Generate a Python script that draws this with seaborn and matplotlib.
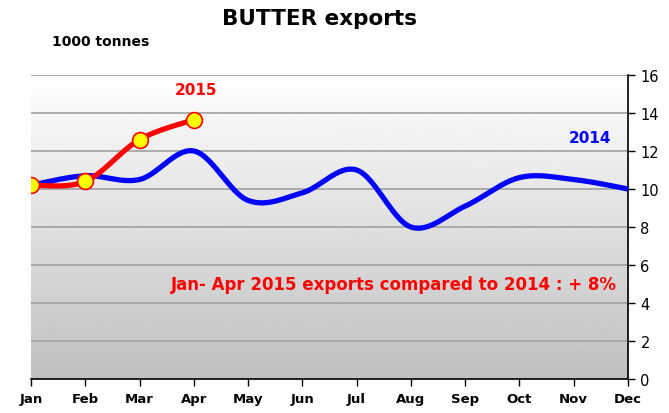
import numpy as np
import pandas as pd
import matplotlib
matplotlib.use("Agg")
import matplotlib.pyplot as plt
import seaborn as sns

months = ["Jan", "Feb", "Mar", "Apr", "May", "Jun", "Jul", "Aug", "Sep", "Oct", "Nov", "Dec"]
exports_2014 = [10.2, 10.7, 10.5, 12.0, 9.4, 9.8, 11.0, 8.0, 9.1, 10.6, 10.5, 10.0]
exports_2015 = [10.2, 10.4, 12.6, 13.65]
y_ticks = [0, 2, 4, 6, 8, 10, 12, 14, 16]


def smooth(xs, ys, n=30):
    # Catmull-Rom curve through the data points (Excel-style smoothed line)
    xs = np.asarray(xs, float)
    ys = np.asarray(ys, float)
    px = np.concatenate([[xs[0]], xs, [xs[-1]]])
    py = np.concatenate([[ys[0]], ys, [ys[-1]]])
    ox, oy = [], []
    for i in range(1, len(px) - 2):
        t = np.linspace(0, 1, n, endpoint=False)
        for arr, out in ((px, ox), (py, oy)):
            p0, p1, p2, p3 = arr[i - 1], arr[i], arr[i + 1], arr[i + 2]
            out.extend(0.5 * ((2 * p1) + (-p0 + p2) * t
                              + (2 * p0 - 5 * p1 + 4 * p2 - p3) * t ** 2
                              + (-p0 + 3 * p1 - 3 * p2 + p3) * t ** 3))
    ox.append(xs[-1])
    oy.append(ys[-1])
    return np.array(ox), np.array(oy)


sns.set_theme(style="white")
plt.rcParams["font.family"] = ["DejaVu Sans"]
plt.rcParams["text.color"] = "black"
plt.rcParams["xtick.color"] = "black"
plt.rcParams["ytick.color"] = "black"

fig = plt.figure(figsize=(6.69, 4.14), dpi=100)
ax = fig.add_axes([0.0463, 0.0821, 0.8924, 0.7343])

# gradient background
grad = np.linspace(0.75, 1.0, 256).reshape(-1, 1)
ax.imshow(grad, extent=[0, 11, 0, 16], origin="lower", aspect="auto",
          cmap="gray", vmin=0, vmax=1, zorder=0)

for v in y_ticks[1:]:
    ax.axhline(v, color="#a0a0a0", lw=1.2, zorder=1)

x14 = np.arange(len(exports_2014))
sx, sy = smooth(x14, exports_2014)
df14 = pd.DataFrame({"x": sx, "y": sy})
sns.lineplot(data=df14, x="x", y="y", sort=False, color="#0000ff", lw=3.8,
             ax=ax, zorder=3, estimator=None)

x15 = np.arange(len(exports_2015))
sx5, sy5 = smooth(x15, exports_2015)
df15 = pd.DataFrame({"x": sx5, "y": sy5})
sns.lineplot(data=df15, x="x", y="y", sort=False, color="#ff0000", lw=3.8,
             ax=ax, zorder=4, estimator=None)
sns.scatterplot(x=x15, y=exports_2015, color="#ffff00", edgecolor="#ff0000",
                linewidth=1.2, s=130, ax=ax, zorder=5)

ax.set_xlim(0, 11)
ax.set_ylim(0, 16)
ax.set_xticks(range(len(months)))
ax.set_xticklabels(months, fontweight="bold", fontsize=9.5, color="black")
ax.set_yticks(y_ticks)
ax.yaxis.tick_right()
ax.tick_params(axis="y", labelsize=10.5, direction="out", length=5, width=1,
               color="black", labelcolor="black", pad=4, right=True, left=False)
ax.tick_params(axis="x", direction="out", length=5, width=1, color="black",
               labelcolor="black", pad=4, bottom=True)
ax.set_xlabel("")
ax.set_ylabel("")
for s in ["top", "left"]:
    ax.spines[s].set_visible(False)
for s in ["right", "bottom"]:
    ax.spines[s].set_visible(True)
    ax.spines[s].set_color("black")
    ax.spines[s].set_linewidth(1.2)

ax.text(3.04, 15.25, "2015", color="#ff0000", fontweight="bold", fontsize=11,
        ha="center", va="center")
ax.text(10.3, 12.7, "2014", color="#0000ff", fontweight="bold", fontsize=11,
        ha="center", va="center")
ax.text(10.8, 5.0, "Jan- Apr 2015 exports compared to 2014 : + 8%",
        color="#ff0000", fontweight="bold", fontsize=12, ha="right", va="center")

fig.text(0.478, 0.955, "BUTTER exports", fontweight="bold", fontsize=15.5,
         ha="center", va="center", color="black")
fig.text(0.078, 0.898, "1000 tonnes", fontweight="bold", fontsize=10,
         ha="left", va="center", color="black")

fig.savefig("out.png", dpi=100)
